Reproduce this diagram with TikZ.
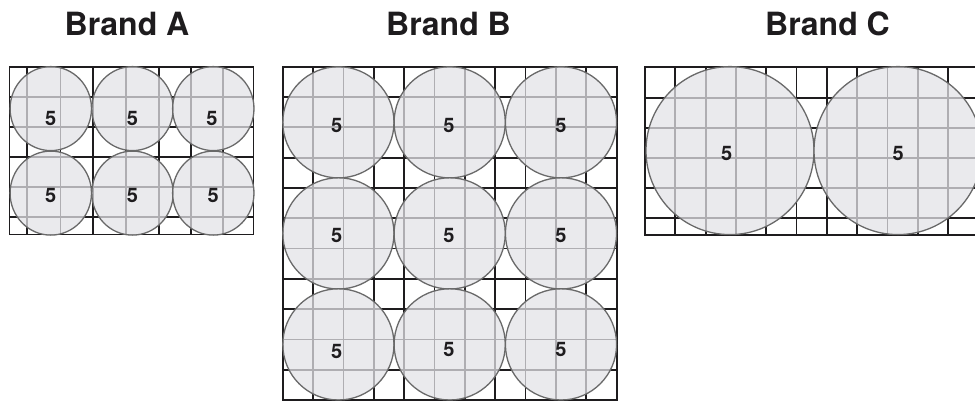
\documentclass[tikz,border=0pt]{standalone}
\usepackage{fontspec}
\setmainfont{TeX Gyre Heros}
\definecolor{discfill}{RGB}{226,226,231}
\definecolor{discline}{RGB}{105,105,105}
\definecolor{ink}{RGB}{30,28,30}
\begin{document}
\begin{tikzpicture}[x=1pt,y=-1pt,
  gridline/.style={ink,line width=1.8pt},
  disc/.style={fill=discfill,fill opacity=0.74,draw=discline,draw opacity=1,line width=1.3pt},
  title/.style={font=\bfseries\fontsize{32}{38}\selectfont,anchor=base,text=ink,inner sep=0pt},
  num/.style={font=\bfseries\fontsize{20}{24}\selectfont,text=ink,inner sep=0pt}]
\useasboundingbox (0,0) rectangle (975,402);
\clip (0,0) rectangle (975,402);
% titles
\node[title] (ta) at (127,35) {Brand A};
\node[title] (tb) at (448.5,35) {Brand B};
\node[title] (tc) at (827.5,35) {Brand C};
% grid A
\foreach \x in {27.3,60.5,92.7,126,159,191,223.3}
  \draw[gridline] (\x,66.7) -- (\x,234.5);
\foreach \y in {96.7,126.7,156.7,186.7,216.7}
  \draw[gridline] (9.5,\y) -- (253.5,\y);
\draw[gridline] (9.5,66.7) rectangle (253.5,234.5);
% grid B
\foreach \i in {1,...,10}{
  \draw[gridline] ({282.7+30.36*\i},66.7) -- ({282.7+30.36*\i},400);
  \draw[gridline] (282.7,{66.7+30.3*\i}) -- (616.7,{66.7+30.3*\i});
}
\draw[gridline] (282.7,66.7) rectangle (616.7,400);
% grid C
\foreach \i in {1,...,11}
  \draw[gridline] ({645+30.3*\i},66.7) -- ({645+30.3*\i},235);
\foreach \y in {98,128.3,158.3,188.3,218.3}
  \draw[gridline] (645,\y) -- (990,\y);
\draw[gridline] (990,66.7) -- (645,66.7) -- (645,235) -- (990,235);
% discs A
\foreach \cx in {50.8,132.5,213.3}
  \foreach \cy in {108.6,193.1}
    \draw[disc] (\cx,\cy) ellipse [x radius=40.7pt, y radius=42pt];
% discs B
\foreach \cx in {338.4,449.7,561}
  \foreach \cy in {122.3,233.4,344.4}
    \draw[disc] (\cx,\cy) circle [radius=55.6pt];
% discs C
\draw[disc] (730,150.6) circle [radius=84pt];
\draw[disc] (898,150.6) circle [radius=84pt];
% labels A
\node[num] (a1) at (50.7,118) {5};
\node[num] (a2) at (132.4,118) {5};
\node[num] (a3) at (212,118) {5};
\node[num] (a4) at (50.7,195.5) {5};
\node[num] (a5) at (132.4,195.5) {5};
\node[num] (a6) at (213.3,195.5) {5};
% labels B
\node[num] (b1) at (336.7,125) {5};
\node[num] (b2) at (449,125) {5};
\node[num] (b3) at (561,125) {5};
\node[num] (b4) at (336.7,235) {5};
\node[num] (b5) at (449,235) {5};
\node[num] (b6) at (561,235) {5};
\node[num] (b7) at (336.7,351.5) {5};
\node[num] (b8) at (449,349) {5};
\node[num] (b9) at (561,349) {5};
% labels C
\node[num] (c1) at (726.7,153.3) {5};
\node[num] (c2) at (898.3,153.3) {5};
\end{tikzpicture}
\end{document}
